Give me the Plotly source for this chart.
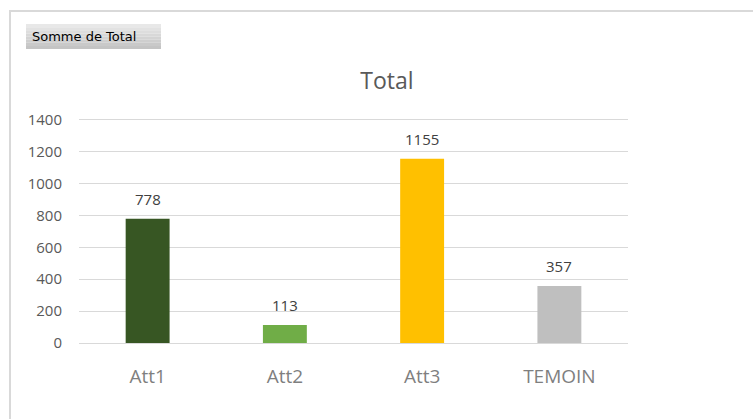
import plotly.graph_objects as go

categories = ["Att1", "Att2", "Att3", "TEMOIN"]
values = [778, 113, 1155, 357]
colors = ["#375623", "#70AD47", "#FFC000", "#BFBFBF"]
y_ticks = [0, 200, 400, 600, 800, 1000, 1200, 1400]

W, H = 753, 419
Y_MAX = 1410
L, R, B = 79, 628, 343
T = round(B - (B - 120) * Y_MAX / 1400)
FONT = "Open Sans, Lato, sans-serif"

def px_x(p):
    return (p - L) / (R - L)

def px_y(p):
    return (B - p) / (B - T)

fig = go.Figure()
fig.add_trace(go.Bar(
    x=categories, y=values, marker=dict(color=colors, line=dict(width=0)),
    width=0.32, hoverinfo="x+y",
))

for c, v in zip(categories, values):
    fig.add_annotation(x=c, y=v, text=str(v), showarrow=False, yanchor="bottom",
                       yshift=8, font=dict(family=FONT, size=15, color="#404040"))

shapes = [
    dict(type="rect", xref="paper", yref="paper", x0=px_x(10), x1=px_x(W + 20),
         y0=px_y(H + 20), y1=px_y(11), line=dict(color="#D9D9D9", width=2), layer="below"),
]
btn_top, btn_bot = 24, 49
stripes = 8
for i in range(stripes):
    y0p = btn_top + (btn_bot - btn_top) * i / stripes
    y1p = btn_top + (btn_bot - btn_top) * (i + 1) / stripes
    g = int(232 - (232 - 196) * i / (stripes - 1))
    shapes.append(dict(type="rect", xref="paper", yref="paper", x0=px_x(26), x1=px_x(161),
                       y0=px_y(y1p), y1=px_y(y0p), line=dict(width=0),
                       fillcolor=f"rgb({g},{g},{g})", layer="below"))

fig.add_annotation(xref="paper", yref="paper", x=px_x(30), y=px_y(37), xanchor="left", yanchor="middle",
                   text="Somme de Total", showarrow=False,
                   font=dict(family="DejaVu Sans, sans-serif", size=13, color="#000000"))

fig.update_layout(
    width=W, height=H,
    margin=dict(l=L, r=W - R, t=T, b=H - B, pad=0),
    paper_bgcolor="white", plot_bgcolor="white",
    shapes=shapes,
    showlegend=False,
    title=dict(text="Total", x=px_x(387), xref="paper", xanchor="center",
               y=1 - 81 / H, yanchor="middle",
               font=dict(family=FONT, size=23, color="#595959")),
    xaxis=dict(showgrid=False, showline=False, ticks="", zeroline=False,
               tickfont=dict(family=FONT, size=19, color="#7F7F7F"),
               ticklabelstandoff=20),
    yaxis=dict(range=[0, Y_MAX], tickvals=y_ticks, showgrid=True, gridcolor="#D9D9D9", gridwidth=1,
               zeroline=True, zerolinecolor="#D9D9D9", zerolinewidth=1, showline=False,
               ticks="", ticklabelstandoff=16,
               tickfont=dict(family=FONT, size=15, color="#595959")),
    bargap=0.68,
)

fig.write_html("out.html", config={"displayModeBar": False},
               post_script="document.body.style.margin='0px';document.body.style.padding='0px';")
